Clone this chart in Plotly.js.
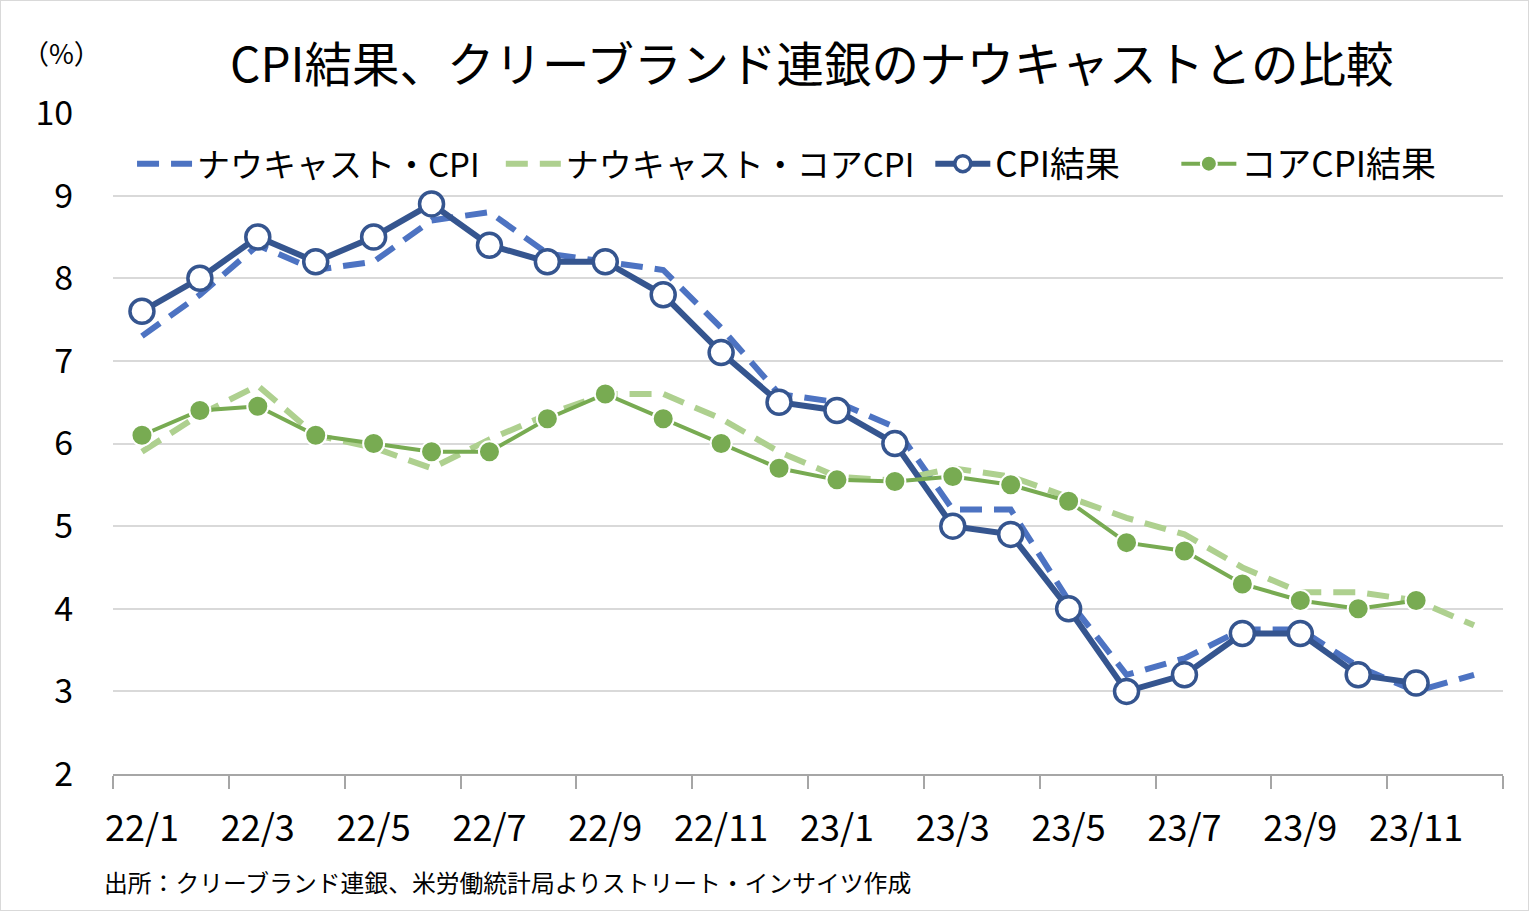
<!DOCTYPE html>
<html>
<head>
<meta charset="utf-8">
<script src="https://cdn.plot.ly/plotly-3.0.1.min.js"></script>
<style>
html,body{margin:0;padding:0;background:#fff;}
#chart{width:1527px;height:909px;border:1px solid #d9d9d9;}
</style>
</head>
<body>
<div id="chart"></div>
<script>
const months = ['22/1','22/2','22/3','22/4','22/5','22/6','22/7','22/8','22/9','22/10','22/11','22/12',
                '23/1','23/2','23/3','23/4','23/5','23/6','23/7','23/8','23/9','23/10','23/11','23/12'];
const nowcastCPI  = [7.3,7.8,8.4,8.1,8.2,8.7,8.8,8.3,8.2,8.1,7.4,6.6,6.5,6.2,5.2,5.2,4.1,3.2,3.4,3.75,3.75,3.3,3.0,3.2];
const nowcastCore = [5.9,6.35,6.7,6.1,5.95,5.7,6.05,6.35,6.6,6.6,6.3,5.9,5.6,5.55,5.7,5.6,5.35,5.1,4.9,4.5,4.2,4.2,4.1,3.8];
const cpiResult   = [7.6,8.0,8.5,8.2,8.5,8.9,8.4,8.2,8.2,7.8,7.1,6.5,6.4,6.0,5.0,4.9,4.0,3.0,3.2,3.7,3.7,3.2,3.1,null];
const coreResult  = [6.1,6.4,6.45,6.1,6.0,5.9,5.9,6.3,6.6,6.3,6.0,5.7,5.56,5.54,5.6,5.5,5.3,4.8,4.7,4.3,4.1,4.0,4.1,null];
const seriesNames = ['ナウキャスト・CPI','ナウキャスト・コアCPI','CPI結果','コアCPI結果'];
const titleText = 'CPI結果、クリーブランド連銀のナウキャストとの比較';
const unitText = '（%）';
const sourceText = '出所：クリーブランド連銀、米労働統計局よりストリート・インサイツ作成';
const yTicks = [2,3,4,5,6,7,8,9,10];

const idx = months.map((m,i)=>i);
const labelIdx = idx.filter(i=>i%2===0);
const boundaries = [];
for (let i=0;i<=months.length;i+=2) boundaries.push(i-0.5);

const FONT = '"Noto Sans CJK JP", "Noto Sans", sans-serif';
const cBlueDark = '#35558F';
const cBlue = '#4D73C2';
const cGreen = '#78AB52';
const cGreenLight = '#AED08F';

const traces = [
  {x: idx, y: nowcastCPI, name: seriesNames[0], type:'scatter', mode:'lines', legend:'legend',
   line:{color:cBlue, width:6, dash:'22px,12px'}},
  {x: idx, y: nowcastCore, name: seriesNames[1], type:'scatter', mode:'lines', legend:'legend2',
   line:{color:cGreenLight, width:6, dash:'22px,12px'}},
  {x: idx, y: cpiResult, name: seriesNames[2], type:'scatter', mode:'lines+markers', legend:'legend3',
   line:{color:cBlueDark, width:6},
   marker:{size:24, color:'#ffffff', line:{color:cBlueDark, width:3.5}}},
  {x: idx, y: coreResult, name: seriesNames[3], type:'scatter', mode:'lines+markers', legend:'legend4',
   line:{color:cGreen, width:4},
   marker:{size:21, color:cGreen, line:{color:'#ffffff', width:2}}}
];

function mkLegend(x, fs){
  return {orientation:'h', x:x, xanchor:'left', y:0.923, yanchor:'middle',
          font:{family:FONT, size:fs, color:'#000'}, bgcolor:'rgba(0,0,0,0)',
          itemwidth:55, borderwidth:0};
}

const layout = {
  width:1527, height:909,
  paper_bgcolor:'#ffffff', plot_bgcolor:'#ffffff',
  margin:{l:112, r:25, t:112, b:136},
  font:{family:FONT, color:'#000000', size:30},
  title:{text:titleText, font:{family:FONT, size:47.5, color:'#000'}, x:0.531, xanchor:'center', y:0.929, yanchor:'middle'},
  showlegend:true,
  legend:mkLegend(0.0137, 33),
  legend2:mkLegend(0.279, 33),
  legend3:mkLegend(0.588, 35),
  legend4:mkLegend(0.765, 35),
  xaxis:{range:[-0.5, months.length-0.5], tickmode:'array', tickvals:labelIdx,
         ticktext:labelIdx.map(i=>months[i]), ticks:'', showgrid:false, zeroline:false,
         showline:true, linecolor:'#a6a6a6', linewidth:2,
         tickfont:{family:FONT, size:36, color:'#000'}, ticklabelstandoff:22,
         minor:{tickmode:'array', tickvals:boundaries, ticks:'outside', ticklen:13, tickwidth:2, tickcolor:'#a6a6a6', showgrid:false},
         fixedrange:true},
  yaxis:{range:[2,10], tickmode:'array', tickvals:yTicks, ticks:'outside', ticklen:32,
         tickcolor:'rgba(0,0,0,0)', showgrid:true, gridcolor:'#d9d9d9', gridwidth:2,
         zeroline:false, showline:false, tickfont:{family:FONT, size:34, color:'#000'}, fixedrange:true},
  annotations:[
    {text:unitText, xref:'paper', yref:'paper', x:-0.0367, y:1.092, xanchor:'center', yanchor:'middle',
     showarrow:false, font:{family:FONT, size:27, color:'#000'}},
    {text:sourceText, xref:'paper', yref:'paper', x:-0.008, y:-0.162, xanchor:'left', yanchor:'middle',
     showarrow:false, font:{family:FONT, size:23.8, color:'#000'}}
  ]
};

Plotly.newPlot('chart', traces, layout, {displayModeBar:false, staticPlot:true});
</script>
</body>
</html>
